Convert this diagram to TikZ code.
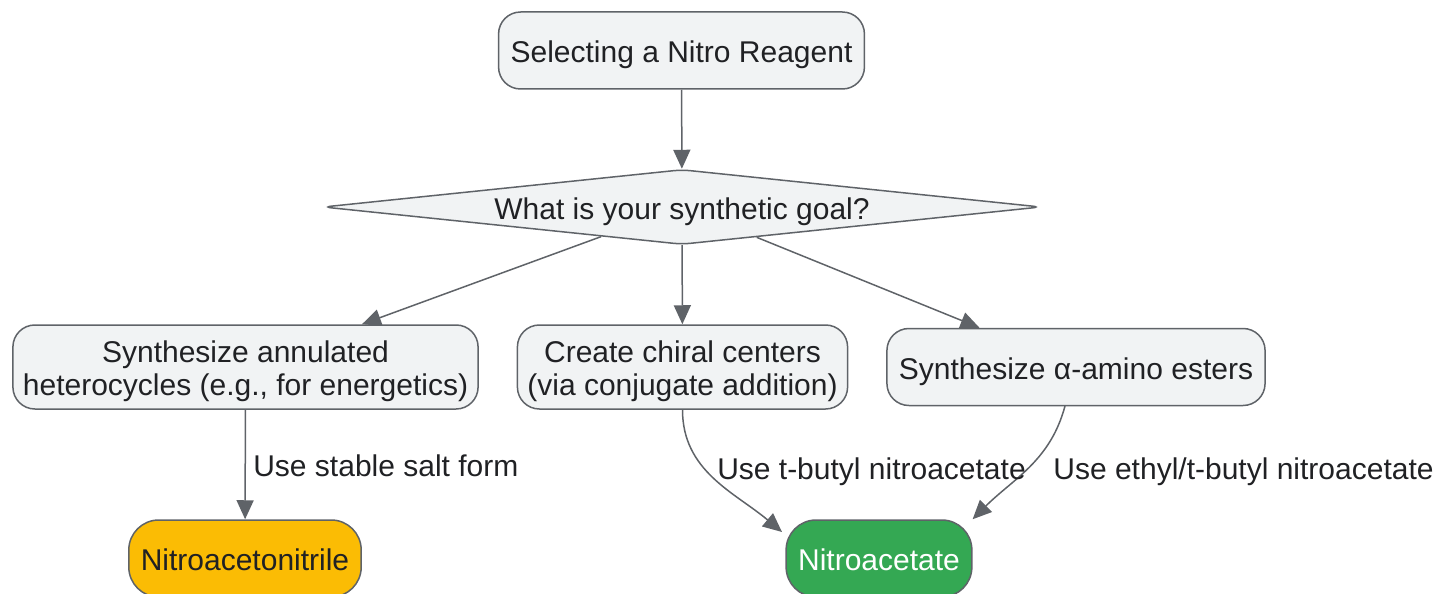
\documentclass[tikz,border=0pt]{standalone}
\usepackage{fontspec}
\setmainfont{Liberation Sans}
\usepackage{xcolor}
\usetikzlibrary{shapes.geometric, arrows.meta}
\definecolor{boxfill}{HTML}{F1F3F4}
\definecolor{boxline}{HTML}{5F6368}
\definecolor{boxtext}{HTML}{202124}
\definecolor{nitrile}{HTML}{FBBC04}
\definecolor{acetate}{HTML}{34A853}

\begin{document}
\begin{tikzpicture}[x=1pt, y=-1pt,
    every node/.style={font=\fontsize{30}{33}\selectfont, text=boxtext, text height=28.7pt, text depth=4.3pt},
    box/.style={draw=boxline, line width=1.5pt, fill=boxfill, rounded corners=22pt,
        align=center, inner xsep=12pt, inner ysep=9pt, minimum height=77pt},
    twoline/.style={box, text height=61.7pt, inner xsep=10pt},
    decision/.style={draw=boxline, line width=1.5pt, fill=boxfill, shape=diamond,
        aspect=9.7, minimum width=718pt, minimum height=75pt, inner sep=0pt, rounded corners=8pt},
    result/.style={box, rounded corners=30pt},
    link/.style={draw=boxline, line width=1.5pt, -{Triangle[length=19pt, width=17pt]}}]
        \useasboundingbox (0, 0) rectangle (1436, 594);
        % Start and question
        \node [box] (start) at (681.5, 50.5) {Selecting a Nitro Reagent};
        \node [decision] (goal) at (682, 207) {What is your synthetic goal?};
        % Goals
        \node [twoline] (annul) at (245.5, 367) {Synthesize annulated\\heterocycles (e.g., for energetics)};
        \node [twoline] (chiral) at (682.5, 367) {Create chiral centers\\(via conjugate addition)};
        \node [box] (amino) at (1076, 367) {Synthesize α-amino esters};
        % Reagents
        \node [result, fill=nitrile] (nitrile) at (245, 558.5) {Nitroacetonitrile};
        \node [result, fill=acetate, text=white] (acetate) at (879, 558.5) {Nitroacetate};
        \coordinate (chiralin) at (782, 532);
        \coordinate (aminoout) at (1065, 406);
        % Lines
        \draw [link] (start) -- (goal);
        \draw [link] (goal) -- (annul);
        \draw [link] (goal) -- (chiral);
        \draw [link] (goal) -- (amino);
        \draw [link] (annul) -- (nitrile) node [pos=0.5, right=4pt] (salt) {Use stable salt form};
        \draw [link] (chiral.south) to [out=-90, in=140] (chiralin);
        \draw [link] (aminoout) to [out=-105, in=45] (acetate.north east);
        \node (tbutyl) at (871.5, 467) {Use t-butyl nitroacetate};
        \node (ethyl) at (1243.5, 467) {Use ethyl/t-butyl nitroacetate};
    \end{tikzpicture}
\end{document}
